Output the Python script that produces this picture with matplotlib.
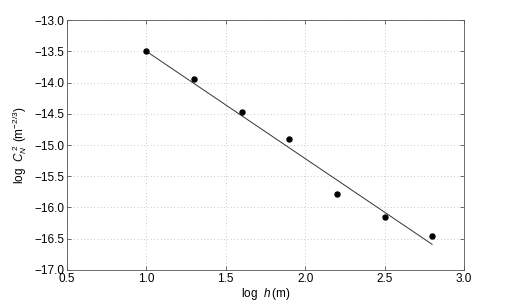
import numpy as np
import matplotlib
matplotlib.use('Agg')
import matplotlib.pyplot as plt

plt.rcParams['font.family'] = ['Liberation Sans', 'DejaVu Sans']
plt.rcParams['mathtext.fontset'] = 'custom'
plt.rcParams['mathtext.rm'] = 'Liberation Sans'
plt.rcParams['mathtext.it'] = 'Liberation Sans:italic'
plt.rcParams['font.size'] = 8.5

# measured points
log_h = [1.0, 1.3, 1.6, 1.9, 2.2, 2.5, 2.8]
log_cn2 = [-13.50, -13.94, -14.47, -14.90, -15.78, -16.15, -16.45]

# fitted line end points
fit_x = [1.0, 2.8]
fit_y = [-13.50, -16.59]

xticks = [0.5, 1.0, 1.5, 2.0, 2.5, 3.0]
yticks = [-17.0, -16.5, -16.0, -15.5, -15.0, -14.5, -14.0, -13.5, -13.0]

fig = plt.figure(figsize=(5.12, 3.05), dpi=100)
ax = fig.add_axes([0.131, 0.115, 0.775, 0.819])

ax.plot(fit_x, fit_y, color='#333333', linewidth=0.7)
ax.plot(log_h, log_cn2, 'o', color='black', markersize=3.6)

ax.set_xlim(0.5, 3.0)
ax.set_ylim(-17.0, -13.0)
ax.set_xticks(xticks)
ax.set_yticks(yticks)
ax.set_xticklabels(['%.1f' % v for v in xticks])
ax.set_yticklabels(['\u2212%.1f' % abs(v) for v in yticks])
ax.grid(True, linestyle=(0, (1, 3)), color='#b8b8b8', linewidth=0.6)
ax.tick_params(direction='in', top=True, right=True, length=3, width=0.5, colors='#333333', labelcolor='black', pad=2)
for s in ax.spines.values():
    s.set_linewidth(0.6)
    s.set_color('#555555')

ax.set_xlabel('log  $h\\,$(m)', labelpad=1)
ax.set_ylabel('log  $C_N^{\\ 2}$ (m$^{-2/3}$)', labelpad=4)

fig.savefig('out.png', dpi=100)
